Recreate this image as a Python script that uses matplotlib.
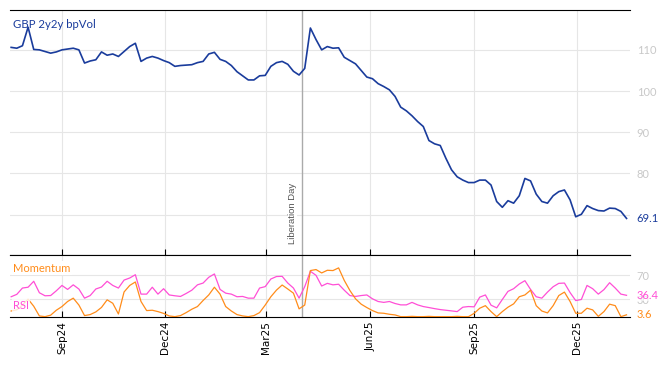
import matplotlib
matplotlib.use("Agg")
import matplotlib.pyplot as plt
import matplotlib.dates as mdates
import pandas as pd

# ---------------- data ----------------
start_date = "2024-07-18"
n_points = 110
step = "5D"

bpvol = [110.6, 110.4, 111.0, 115.5, 110.1, 110.0, 109.6, 109.2, 109.5, 110.0,
         110.2, 110.4, 110.0, 106.8, 107.3, 107.6, 109.5, 108.7, 109.0, 108.4,
         109.6, 110.8, 111.6, 107.2, 108.0, 108.4, 108.0, 107.4, 106.9, 106.0,
         106.2, 106.3, 106.4, 106.9, 107.2, 109.0, 109.4, 107.7, 107.2, 106.2,
         104.7, 103.7, 102.7, 102.7, 103.7, 103.8, 106.0, 106.9, 107.2, 106.5,
         104.8, 103.9, 105.5, 115.3, 112.5, 110.0, 110.8, 110.4, 110.5, 108.2,
         107.4, 106.6, 105.0, 103.4, 103.0, 101.8, 101.1, 100.3, 98.7, 96.1,
         95.2, 94.0, 92.6, 91.4, 88.0, 87.2, 86.8, 83.7, 80.9, 79.2,
         78.4, 77.8, 77.8, 78.4, 78.4, 77.2, 73.2, 71.8, 73.4, 72.8,
         74.6, 78.8, 78.2, 75.0, 73.2, 72.8, 74.6, 75.6, 76.0, 73.6,
         69.5, 70.1, 72.2, 71.5, 71.0, 70.9, 71.6, 71.5, 70.8, 69.1]

rsi = [34.0, 38.0, 48.6, 50.0, 60.0, 40.7, 35.6, 36.0, 44.0, 53.0,
       46.3, 54.0, 46.9, 31.6, 36.0, 47.0, 50.3, 60.0, 53.0, 48.6,
       62.0, 65.5, 71.0, 38.4, 38.4, 50.0, 38.4, 47.5, 37.0, 35.6,
       34.5, 39.5, 45.0, 54.0, 57.0, 66.7, 72.3, 46.3, 40.0, 38.4,
       34.0, 34.5, 31.6, 31.6, 48.6, 51.0, 63.8, 68.0, 68.3, 57.0,
       48.6, 31.6, 51.0, 76.8, 70.0, 52.0, 56.5, 54.0, 55.0, 45.0,
       36.0, 34.5, 36.0, 37.0, 30.5, 26.0, 24.5, 26.0, 22.6, 20.3,
       20.3, 24.5, 20.3, 17.5, 15.8, 14.0, 12.4, 11.3, 10.2, 9.0,
       16.4, 17.5, 17.0, 33.3, 37.0, 19.8, 15.3, 29.4, 43.0, 47.5,
       55.4, 61.0, 46.3, 34.0, 31.6, 41.8, 50.8, 56.5, 57.0, 41.0,
       27.5, 29.4, 53.0, 47.5, 38.4, 46.0, 57.6, 48.6, 38.4, 36.4]

momentum = [10.0, 12.0, 20.0, 30.0, 18.0, 1.7, 0.5, 3.0, 11.3, 17.5,
            26.0, 31.6, 20.0, 2.3, 4.0, 8.5, 16.0, 28.8, 23.0, 5.0,
            42.0, 53.0, 58.8, 26.0, 10.7, 11.3, 9.0, 6.0, 1.7, 0.5,
            2.3, 7.3, 13.0, 17.5, 27.7, 37.0, 50.0, 38.4, 17.5, 10.0,
            4.0, 1.7, 0.5, 2.3, 7.3, 20.0, 34.0, 45.2, 53.7, 47.0,
            40.0, 13.6, 20.0, 78.0, 79.7, 74.0, 78.5, 78.0, 82.5, 61.5,
            44.5, 30.5, 21.5, 15.8, 10.7, 6.8, 6.2, 4.5, 3.4, 0.5,
            0.5, 1.0, 0.5, 0.5, 1.0, 0.5, 0.5, 0.5, 0.5, 1.0,
            0.5, 0.5, 6.0, 14.7, 19.0, 9.0, 0.5, 9.0, 16.4, 22.0,
            34.0, 37.0, 45.0, 19.0, 10.0, 6.8, 19.0, 36.0, 41.8, 26.0,
            6.2, 6.2, 14.7, 11.9, 1.0, 9.0, 21.5, 19.0, 0.5, 3.6]

event_date = "2025-04-02"
event_label = "Liberation Day"
title_text = "GBP 2y2y bpVol"
top_yticks = [70, 80, 90, 100, 110]
bottom_yticks = [30, 70]

# ---------------- styling ----------------
BLUE = "#1a3c9c"
ORANGE = "#ff8c1a"
PINK = "#ff4fd6"
GRID = "#e6e6e6"
TICKGRAY = "#c8c8c8"
FONT = ["Lato", "DejaVu Sans"]

dates = pd.date_range(start_date, periods=n_points, freq=step)

fig = plt.figure(figsize=(6.68, 3.66), dpi=100)
ax = fig.add_axes([0.015, 0.303, 0.928, 0.670])
ax2 = fig.add_axes([0.015, 0.134, 0.928, 0.169], sharex=ax)

xmin = pd.Timestamp("2024-07-17")
xmax = pd.Timestamp("2026-01-17")

# top panel
ax.plot(dates, bpvol, color=BLUE, lw=1.2, zorder=3)
ax.set_ylim(60.2, 119.7)
ax.set_xlim(xmin, xmax)
ax.set_yticks(top_yticks)
ax.set_yticklabels(["" if v == 70 else str(v) for v in top_yticks])
ax.yaxis.tick_right()
ax.tick_params(axis="y", length=0, pad=5, labelsize=8, labelcolor=TICKGRAY)
for lab in ax.get_yticklabels():
    lab.set_fontfamily(FONT)
ax.grid(True, color=GRID, lw=0.8, zorder=0)
for s in ["left", "right"]:
    ax.spines[s].set_visible(False)
ax.spines["top"].set_color("black")
ax.spines["bottom"].set_color("black")
ax.xaxis.set_major_locator(mdates.MonthLocator(bymonth=[3, 6, 9, 12]))
ax.tick_params(axis="x", direction="in", length=4, labelbottom=False, color="black")

ax.text(0.005, 0.94, title_text, transform=ax.transAxes, color=BLUE,
        fontsize=8.2, family=FONT, va="center", ha="left")

ev = pd.Timestamp(event_date)
ax.axvline(ev, color="#aaaaaa", lw=1.0, zorder=2)
ax2.axvline(ev, color="#aaaaaa", lw=1.0, zorder=2)
ax.text(ev - pd.Timedelta(days=9), 60.2 + 2.6, event_label, rotation=90,
        fontsize=6.8, color="#555555", ha="center", va="bottom",
        family=["Liberation Sans", "DejaVu Sans"],
        bbox=dict(facecolor="white", edgecolor="none", pad=0.5), zorder=4)

ax.annotate(f"{bpvol[-1]:.1f}", xy=(1, bpvol[-1]),
            xycoords=("axes fraction", "data"), xytext=(5, 0),
            textcoords="offset points", color=BLUE, fontsize=8,
            family=FONT, va="center", ha="left")

# bottom panel
ax2.plot(dates, rsi, color=PINK, lw=0.9, zorder=3)
ax2.plot(dates, momentum, color=ORANGE, lw=0.9, zorder=3)
ax2.set_ylim(0, 104)
ax2.set_yticks(bottom_yticks)
ax2.yaxis.tick_right()
ax2.tick_params(axis="y", length=0, pad=5, labelsize=8, labelcolor=TICKGRAY)
for lab in ax2.get_yticklabels():
    lab.set_fontfamily(FONT)
ax2.grid(True, color=GRID, lw=0.8, zorder=0)
for s in ["left", "right"]:
    ax2.spines[s].set_visible(False)
ax2.xaxis.set_major_locator(mdates.MonthLocator(bymonth=[3, 6, 9, 12]))
ax2.xaxis.set_major_formatter(mdates.DateFormatter("%b%y"))
ax2.tick_params(axis="x", direction="in", length=4, labelsize=7.5,
                labelrotation=90, color="black", pad=3)

ax2.text(0.005, 0.79, "Momentum", transform=ax2.transAxes, color=ORANGE,
         fontsize=8, family=FONT, va="center", ha="left", zorder=5,
         bbox=dict(facecolor="white", edgecolor="none", pad=1.0))
ax2.text(0.005, 0.19, "RSI", transform=ax2.transAxes, color=PINK,
         fontsize=8, family=FONT, va="center", ha="left", zorder=5,
         bbox=dict(facecolor="white", edgecolor="none", alpha=0.8, pad=1.0))

ax2.annotate(f"{rsi[-1]:.1f}", xy=(1, rsi[-1]),
             xycoords=("axes fraction", "data"), xytext=(5, 0),
             textcoords="offset points", color=PINK, fontsize=8,
             family=FONT, va="center", ha="left",
             bbox=dict(facecolor="white", edgecolor="none", alpha=0.6, pad=0.3))
ax2.annotate(f"{momentum[-1]:.1f}", xy=(1, momentum[-1]),
             xycoords=("axes fraction", "data"), xytext=(5, 0),
             textcoords="offset points", color=ORANGE, fontsize=8,
             family=FONT, va="center", ha="left")

fig.savefig("out.png", dpi=100)
